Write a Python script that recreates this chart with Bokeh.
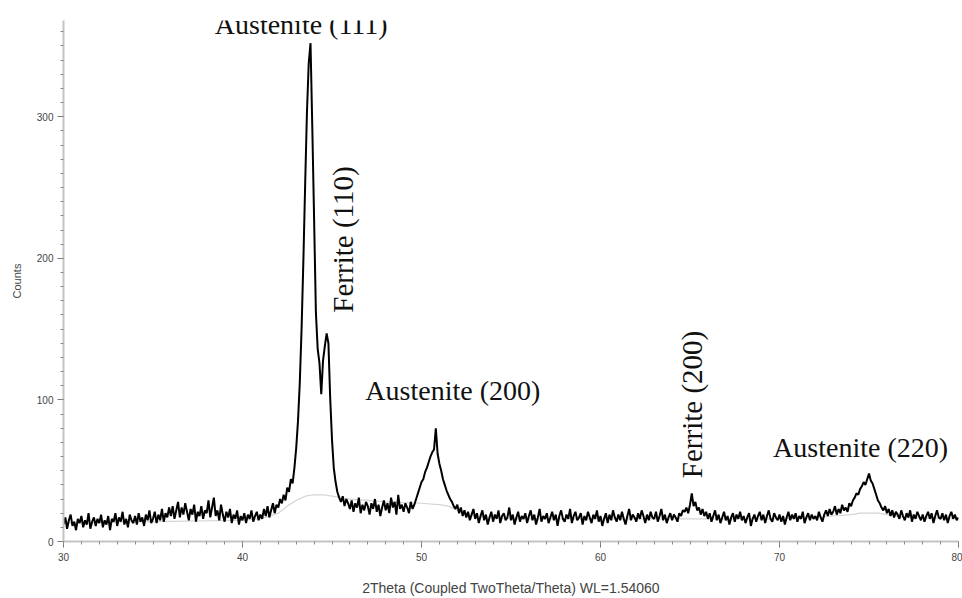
from bokeh.plotting import figure
from bokeh.models import Range1d, SingleIntervalTicker, Label
from bokeh.embed import file_html
from bokeh.resources import INLINE

# ---- data ----
theta_start = 30.0
theta_step = 0.1
counts_rows = [
    [12, 17, 9, 15, 19, 11, 14, 8, 16, 13],      # 30
    [18, 10, 15, 12, 20, 9, 14, 17, 11, 16],     # 31
    [13, 19, 10, 15, 12, 18, 8, 16, 14, 20],     # 32
    [11, 17, 14, 21, 12, 16, 10, 19, 15, 13],    # 33
    [18, 12, 20, 14, 17, 11, 19, 15, 22, 13],    # 34
    [16, 21, 13, 19, 15, 23, 14, 20, 17, 24],    # 35
    [18, 25, 16, 22, 28, 17, 24, 19, 27, 21],    # 36
    [15, 23, 19, 26, 14, 21, 18, 25, 16, 22],    # 37
    [20, 29, 17, 24, 31, 18, 22, 15, 26, 19],    # 38
    [14, 21, 17, 23, 13, 19, 16, 22, 12, 18],    # 39
    [15, 20, 13, 19, 16, 22, 14, 18, 21, 15],    # 40
    [19, 16, 23, 18, 25, 17, 22, 27, 20, 26],    # 41
    [24, 30, 27, 33, 29, 38, 35, 44, 41, 52],    # 42
    [66, 85, 112, 150, 198, 252, 303, 338, 352, 292],  # 43
    [228, 162, 136, 126, 104, 128, 138, 147, 140, 101],  # 44
    [72, 52, 42, 35, 31, 28, 32, 25, 30, 27],    # 45
    [23, 29, 21, 27, 24, 31, 20, 26, 22, 28],    # 46
    [25, 19, 27, 23, 30, 21, 26, 18, 24, 29],    # 47
    [22, 27, 20, 31, 24, 28, 19, 33, 23, 26],    # 48
    [21, 27, 24, 20, 28, 23, 26, 30, 34, 38],    # 49
    [42, 44, 49, 52, 56, 60, 63, 65, 80, 62],    # 50
    [55, 50, 44, 40, 36, 33, 30, 28, 25, 23],    # 51
    [26, 20, 24, 18, 22, 17, 21, 15, 19, 23],    # 52
    [16, 20, 13, 18, 22, 15, 19, 12, 17, 21],    # 53
    [14, 19, 16, 22, 13, 18, 20, 15, 17, 24],    # 54
    [15, 19, 12, 17, 21, 14, 18, 16, 20, 13],    # 55
    [18, 22, 15, 19, 12, 17, 23, 14, 18, 16],    # 56
    [20, 13, 17, 21, 15, 19, 11, 18, 22, 16],    # 57
    [14, 19, 16, 23, 13, 18, 21, 15, 17, 20],    # 58
    [12, 18, 15, 21, 17, 13, 19, 16, 22, 14],    # 59
    [18, 11, 16, 20, 13, 19, 15, 22, 17, 14],    # 60
    [19, 15, 21, 16, 12, 18, 23, 15, 19, 17],    # 61
    [14, 20, 16, 22, 18, 13, 19, 15, 21, 17],    # 62
    [16, 21, 14, 18, 23, 15, 19, 13, 17, 20],    # 63
    [15, 19, 17, 14, 20, 18, 22, 21, 24, 20],    # 64
    [26, 34, 25, 28, 22, 24, 19, 23, 18, 21],    # 65
    [16, 20, 14, 18, 22, 15, 19, 13, 17, 21],    # 66
    [15, 18, 12, 17, 20, 14, 19, 16, 21, 15],    # 67
    [18, 13, 17, 20, 11, 16, 19, 14, 18, 21],    # 68
    [15, 19, 13, 18, 22, 16, 14, 20, 17, 15],    # 69
    [19, 14, 18, 12, 17, 21, 15, 19, 16, 20],    # 70
    [14, 18, 16, 21, 13, 17, 20, 15, 19, 16],    # 71
    [18, 15, 21, 17, 14, 19, 22, 18, 23, 19],    # 72
    [21, 25, 19, 23, 20, 26, 22, 24, 21, 27],    # 73
    [25, 29, 31, 34, 33, 37, 39, 42, 40, 44],    # 74
    [48, 43, 41, 37, 33, 29, 27, 24, 22, 25],    # 75
    [20, 23, 18, 22, 17, 21, 19, 16, 22, 18],    # 76
    [15, 20, 17, 22, 14, 19, 16, 21, 18, 15],    # 77
    [19, 14, 18, 21, 16, 20, 13, 18, 22, 17],    # 78
    [16, 20, 15, 19, 13, 18, 21, 16, 19, 15],    # 79
    [17],                                         # 80
]

bg_theta = [30, 35, 40, 41, 42, 42.5, 43, 43.5, 44, 44.5, 45, 45.5, 46, 47, 48, 49,
            50, 50.5, 51, 51.5, 52, 53, 55, 60, 65, 70, 72, 73, 74, 74.5, 75, 75.5,
            76, 77, 80]
bg_counts = [13, 14, 15, 16, 20, 25, 29, 32, 33, 33, 32, 31, 30, 29, 28, 27.5,
             27, 26.5, 26, 25, 22, 18, 16, 16, 16, 16, 17, 18, 19, 20, 20, 20,
             19, 17, 16]

peak_labels = ["Austenite (111)", "Ferrite (110)", "Austenite (200)", "Ferrite (200)", "Austenite (220)"]
peak_label_x = [43.28, 45.64, 51.75, 65.11, 74.53]
peak_label_y = [365.5, 213.3, 106.7, 96.8, 66.4]
peak_label_vertical = [False, True, False, True, False]

x_ticks_major = 10
y_ticks_major = 100

counts = [c for row in counts_rows for c in row]
two_theta = [round(theta_start + i * theta_step, 2) for i in range(len(counts))]

p = figure(width=962, height=598, output_backend="svg", toolbar_location=None,
           x_range=Range1d(30, 80), y_range=Range1d(0, 368),
           min_border_left=63, min_border_right=4, min_border_top=20, min_border_bottom=57)
p.outline_line_color = None
p.xgrid.visible = False
p.ygrid.visible = False
p.background_fill_color = "white"
p.border_fill_color = "white"

p.line(bg_theta, bg_counts, line_color="#d4d4d4", line_width=1.2)
p.line(two_theta, counts, line_color="black", line_width=2.0)

axis_color = "#c4c4c4"
p.xaxis.ticker = SingleIntervalTicker(interval=x_ticks_major, num_minor_ticks=10)
p.yaxis.ticker = SingleIntervalTicker(interval=y_ticks_major, num_minor_ticks=10)
for ax in (p.xaxis[0], p.yaxis[0]):
    ax.axis_line_color = axis_color
    ax.axis_line_width = 2
    ax.major_tick_line_color = "#777777"
    ax.minor_tick_line_color = "#888888"
    ax.major_tick_in = 0
    ax.major_tick_out = 6
    ax.minor_tick_in = 0
    ax.minor_tick_out = 3
    ax.major_label_text_font = "Liberation Sans"
    ax.major_label_text_font_size = "10px"
    ax.major_label_text_color = "#444444"
    ax.axis_label_text_font = "Liberation Sans"
    ax.axis_label_text_font_style = "normal"
    ax.axis_label_text_color = "#444444"

p.xaxis.axis_label = "2Theta (Coupled TwoTheta/Theta) WL=1.54060"
p.xaxis.axis_label_text_font_size = "14px"
p.xaxis.major_label_standoff = 5
p.xaxis.axis_label_standoff = 16

p.yaxis.axis_label = "Counts"
p.yaxis.axis_label_text_font_size = "11px"
p.yaxis.major_label_standoff = 4
p.yaxis.axis_label_standoff = 11

for t, lx, ly, vert in zip(peak_labels, peak_label_x, peak_label_y, peak_label_vertical):
    p.add_layout(Label(x=lx, y=ly, text=t, text_font="Liberation Serif",
                       text_font_size="29px" if vert else "28px", text_color="#111111",
                       text_align="center", text_baseline="middle",
                       angle=1.5708 if vert else 0.0))

open("out.html", "w").write(file_html(p, INLINE))
